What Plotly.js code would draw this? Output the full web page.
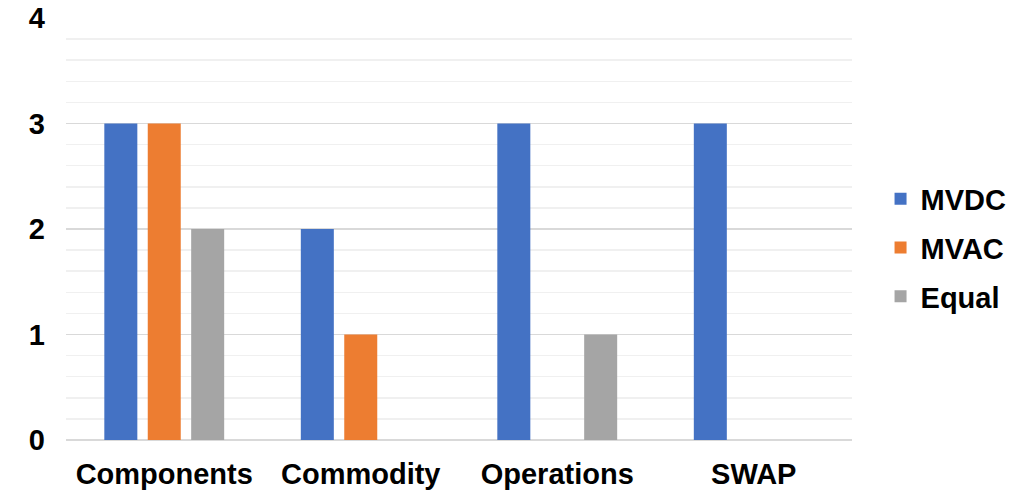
<!DOCTYPE html>
<html><head><meta charset="utf-8">
<script src="https://cdn.plot.ly/plotly-3.0.1.min.js"></script>
<style>html,body{margin:0;padding:0;background:#fff}#chart{width:1023px;height:495px}</style>
</head><body><div id="chart"></div>
<script>
const categories = ["Components", "Commodity", "Operations", "SWAP"];
const mvdc = [3, 2, 3, 3];
const mvac = [3, 1, 0, 0];
const equal = [2, 0, 1, 0];
const seriesNames = ["MVDC", "MVAC", "Equal"];
const colors = ["#4472C4", "#ED7D31", "#A5A5A5"];
const fam = "Liberation Sans, Arial, sans-serif";
const bold = {family: fam, size: 29, color: "#000", weight: "bold"};
const traces = [mvdc, mvac, equal].map((v, i) => ({
  type: "bar", x: categories, y: v, name: seriesNames[i], legendgroup: "g" + i,
  marker: {color: colors[i]}, hoverinfo: "skip"
}));
Plotly.newPlot("chart", traces, {
  width: 1023, height: 495,
  margin: {l: 66, r: 170, t: 18, b: 55},
  paper_bgcolor: "#fff", plot_bgcolor: "#fff",
  barmode: "group", bargap: 0.337, bargroupgap: 0.24,
  font: {family: fam, size: 29, color: "#000"},
  xaxis: {tickfont: bold, showgrid: false, showline: false, ticks: "", ticklen: 0, ticklabelstandoff: 14},
  yaxis: {range: [0, 4], dtick: 1, tick0: 0, gridcolor: "#d9d9d9", gridwidth: 1.5, zeroline: true, zerolinecolor: "#d9d9d9", zerolinewidth: 1.5,
    tickfont: bold, ticks: "", ticklabelstandoff: 20,
    minor: {dtick: 0.2, showgrid: true, gridcolor: "#f0f0f0", gridwidth: 1.5}},
  showlegend: true,
  legend: {x: 1.035, y: 0.455, yanchor: "middle", xanchor: "left", font: bold, itemwidth: 30, tracegroupgap: 8, traceorder: "grouped", itemsizing: "constant"}
}, {staticPlot: true});
</script></body></html>
